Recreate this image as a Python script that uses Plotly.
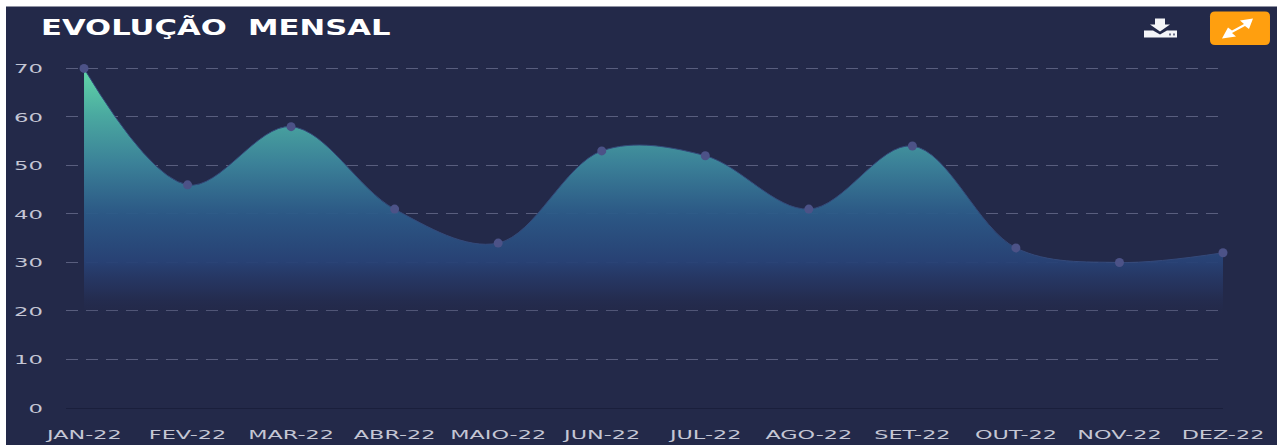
import plotly.graph_objects as go

categories = ["JAN-22", "FEV-22", "MAR-22", "ABR-22", "MAIO-22", "JUN-22",
              "JUL-22", "AGO-22", "SET-22", "OUT-22", "NOV-22", "DEZ-22"]
values = [70, 46, 58, 41, 34, 53, 52, 41, 54, 33, 30, 32]
y_ticks = [0, 10, 20, 30, 40, 50, 60, 70]
title_text = "EVOLUÇÃO  MENSAL"

W, H = 1277, 445
Y_TOP = 70.5
L, R, B = 66, 1223, 408
T = B - 340 * Y_TOP / 70
PANEL = "#232949"

def px(x):
    return (x - L) / (R - L)

def py(y):
    return (B - y) / (B - T)

def path(points):
    return "M " + " L ".join(f"{px(x):.5f},{py(y):.5f}" for x, y in points) + " Z"

def rounded(x0, y0, x1, y1, r):
    a, b, c, d = px(x0), px(x1), py(y0), py(y1)
    rx, ry = r / (R - L), r / (B - T)
    return (f"M {a+rx:.5f},{c:.5f} L {b-rx:.5f},{c:.5f} Q {b:.5f},{c:.5f} {b:.5f},{c-ry:.5f} "
            f"L {b:.5f},{d+ry:.5f} Q {b:.5f},{d:.5f} {b-rx:.5f},{d:.5f} L {a+rx:.5f},{d:.5f} "
            f"Q {a:.5f},{d:.5f} {a:.5f},{d+ry:.5f} L {a:.5f},{c-ry:.5f} Q {a:.5f},{c:.5f} {a+rx:.5f},{c:.5f} Z")

def shape(d, color):
    return dict(type="path", xref="paper", yref="paper", path=d,
                fillcolor=color, line=dict(width=0), layer="below")

shapes = [
    dict(type="rect", xref="paper", yref="paper", x0=px(6), x1=px(W + 2), y0=py(H + 2), y1=py(6),
         fillcolor=PANEL, line=dict(width=0), layer="below"),
    shape(rounded(1210, 11, 1270, 44.5, 5), "#ff9f0f"),
    shape(path([(1253, 18), (1240, 20), (1244, 23.5), (1232, 30), (1228, 27), (1222, 38),
                (1236, 36), (1232, 32.5), (1245, 25.5), (1249, 28.5)]), "#ffffff"),
    shape(path([(1155, 18), (1165, 18), (1165, 24), (1170, 24), (1160, 31), (1150, 24), (1155, 24)]), "#f4f5f8"),
    shape(path([(1144, 30), (1153, 30), (1160, 34), (1167, 30), (1177, 30), (1177, 37), (1144, 37)]), "#f4f5f8"),
    shape(path([(1169, 33), (1171, 33), (1171, 35), (1169, 35)]), "#6a6f88"),
    shape(path([(1173, 33), (1175, 33), (1175, 35), (1173, 35)]), "#6a6f88"),
]

fig = go.Figure(go.Scatter(
    x=categories, y=values, mode="lines+markers", fill="tozeroy",
    line=dict(shape="spline", smoothing=1.0, color="#34497a", width=1),
    marker=dict(size=9, color="#4c5287"),
    fillgradient=dict(type="vertical", start=0, stop=70, colorscale=[
        [0.0, "rgba(35,41,73,0)"], [0.27, "rgba(35,41,73,0)"], [0.35, "rgba(38,52,95,0.75)"],
        [0.43, "rgba(40,66,118,0.95)"], [0.57, "rgba(44,90,136,0.95)"],
        [0.72, "#3b8198"], [0.86, "#4aa8a0"], [1.0, "#62d8a8"]]),
    cliponaxis=False, hoverinfo="x+y",
))

fig.update_layout(
    width=W, height=H, margin=dict(l=L, r=W - R, t=T, b=H - B),
    paper_bgcolor="#ffffff", plot_bgcolor="rgba(0,0,0,0)", showlegend=False, shapes=shapes,
    font=dict(family="DejaVu Sans", color="#c4c6d4", size=13),
    annotations=[dict(text=f"<b>{title_text}</b>", xref="paper", yref="paper", x=px(215), y=py(27),
                      xanchor="center", yanchor="middle", showarrow=False,
                      font=dict(family="DejaVu Sans", size=21, color="#ffffff"))],
)
fig.update_xaxes(type="category", range=[-0.174, 11], showgrid=False, showline=False, zeroline=False,
                 ticks="", tickfont=dict(size=13), ticklabelstandoff=17, automargin=False,
                 tickangle=0, ticklabeloverflow="allow")
fig.update_yaxes(range=[0, Y_TOP], tickvals=y_ticks, showgrid=True, gridcolor="#595e7e", griddash="12px,8px",
                 gridwidth=1, zeroline=True, zerolinecolor="#1a1f3c", zerolinewidth=1, showline=False,
                 ticks="", tickfont=dict(size=13), ticklabelstandoff=22, automargin=False)

stretch = """
document.body.style.margin='0';
function stretch(sel, s){
  document.querySelectorAll(sel).forEach(function(t){
    var b = t.getBBox(), a = t.getAttribute('text-anchor');
    var X = a==='end' ? b.x+b.width : (a==='start' ? b.x : b.x+b.width/2);
    var old = t.getAttribute('transform') || '';
    t.setAttribute('transform', old+' translate('+X+',0) scale('+s+',1) translate('+(-X)+',0)');
  });
}
stretch('.xtick text', 1.72);
stretch('.ytick text', 1.75);
stretch('.annotation-text', 1.46);
"""
fig.write_html("out.html", config=dict(displayModeBar=False), post_script=stretch)
